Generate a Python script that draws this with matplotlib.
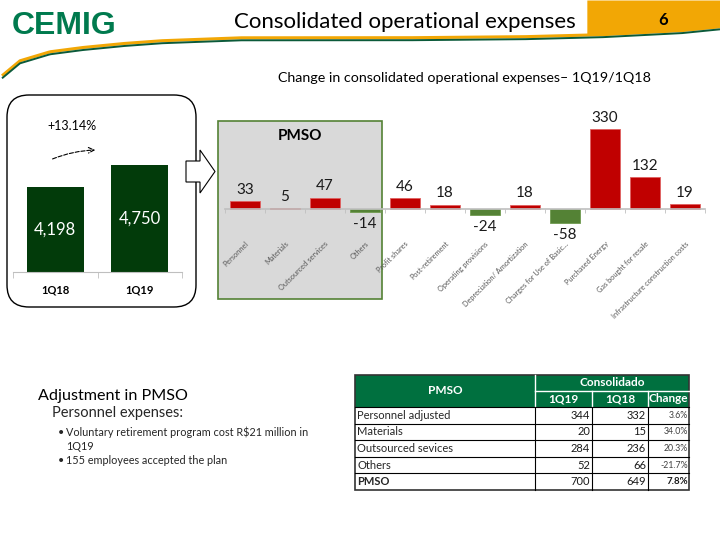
import matplotlib.pyplot as plt
import matplotlib.patches as mpatches
import numpy as np

# data
quarters = ['1Q18', '1Q19']
totals = [4198, 4750]
total_change = '+13.14%'

categories = ['Personnel', 'Materials', 'Outsourced services', 'Others', 'Profit shares',
              'Post-retirement', 'Operating provisions', 'Depreciation/ Amortization',
              'Charges for Use of Basic...', 'Purchased Energy', 'Gas bought for resale',
              'Infrastructure construction costs']
changes = [33, 5, 47, -14, 46, 18, -24, 18, -58, 330, 132, 19]

table_rows = ['Personnel adjusted', 'Materials', 'Outsourced sevices', 'Others', 'PMSO']
table_1q19 = [344, 20, 284, 52, 700]
table_1q18 = [332, 15, 236, 66, 649]
table_change = ['3.6%', '34.0%', '20.3%', '-21.7%', '7.8%']

plt.rcParams['font.family'] = ['Lato', 'DejaVu Sans']

ORANGE = '#f2a705'
DKGREEN = '#0b5a3a'
RED = '#c00000'
NEG = '#548235'
HDR = '#00703f'
W, H = 720, 540

fig = plt.figure(figsize=(7.2, 5.4), dpi=100)
bg = fig.add_axes([0, 0, 1, 1])
bg.set_xlim(0, W)
bg.set_ylim(H, 0)
bg.axis('off')


def px_axes(x0, y0, x1, y1):
    a = fig.add_axes([x0 / W, 1 - y1 / H, (x1 - x0) / W, (y1 - y0) / H])
    a.patch.set_alpha(0)
    return a


# header: swoosh, orange box, logo, title
sx = [2, 20, 50, 80, 120, 160, 240, 400, 520, 600, 680, 720]
sy = [77, 62, 53, 49, 45, 42, 39, 39, 38, 36, 32, 28]
xs = np.linspace(2, 720, 400)
ys = np.interp(xs, sx, sy)
m = xs >= 586
bg.fill_between(xs[m], 0, ys[m] - 2, color=ORANGE, lw=0)
bg.plot(xs, ys - 1.2, color=ORANGE, lw=2.2, solid_capstyle='butt')
bg.plot(xs, ys + 1.3, color=DKGREEN, lw=1.4, solid_capstyle='butt')
bg.text(12, 26, 'CEMIG', family='Liberation Sans', fontweight='bold', fontsize=23,
        color='#007a4e', va='center')
bg.text(405, 22, 'Consolidated operational expenses', ha='center', va='center', fontsize=16)
bg.text(663, 20, '6', ha='center', va='center', fontsize=12, fontweight='bold')
bg.text(465, 78, 'Change in consolidated operational expenses\u2013 1Q19/1Q18',
        ha='center', va='center', fontsize=10.3)

# left box
bg.add_patch(mpatches.FancyBboxPatch((7, 95), 189, 212, boxstyle='round,pad=0,rounding_size=22',
                                     fc='white', ec='black', lw=1))
bg.text(72, 126, total_change, ha='center', va='center', fontsize=9)
bg.annotate('', xy=(98, 150), xytext=(50, 160),
            arrowprops=dict(arrowstyle='->', ls='--', lw=0.8, color='black',
                            connectionstyle='arc3,rad=-0.1'))
# block arrow
bg.add_patch(mpatches.Polygon([(186, 161), (200, 161), (200, 150), (215, 171.5),
                               (200, 193), (200, 182), (186, 182)],
                              closed=True, fc='white', ec='black', lw=0.8))
# PMSO gray box
bg.add_patch(mpatches.Rectangle((218, 121), 164, 178, fc='#d9d9d9', ec=NEG, lw=1.2))
bg.text(300, 136, 'PMSO', ha='center', va='center', fontsize=11, fontweight='bold')

# totals bar chart
ax1 = px_axes(13, 140, 182, 272)
ymin = 2065
ax1.bar(range(len(totals)), totals, width=0.67, color='#023b0a')
ax1.set_xlim(-0.5, 1.5)
ax1.set_ylim(ymin, 5377)
for i, v in enumerate(totals):
    ax1.text(i, (ymin + v) / 2, f'{v:,}', ha='center', va='center', color='white', fontsize=12)
for s in ['top', 'left', 'right']:
    ax1.spines[s].set_visible(False)
ax1.spines['bottom'].set_color('#bfbfbf')
ax1.set_yticks([])
ax1.set_xticks(range(len(quarters)))
ax1.set_xticklabels(quarters, fontsize=8, fontweight='bold')
ax1.tick_params(axis='x', which='major', length=0, pad=9)
ax1.set_xticks([-0.5, 0.5, 1.5], minor=True)
ax1.tick_params(axis='x', which='minor', length=4, color='#bfbfbf')

# waterfall of changes
ax2 = px_axes(225, 110, 705, 240)
cols = [RED if v > 0 else NEG for v in changes]
edges = ['#e06060' if v > 0 else '#6f9a4f' for v in changes]
ax2.bar(range(len(changes)), changes, width=0.77, color=cols, edgecolor=edges, lw=0.6)
ax2.set_xlim(-0.5, len(changes) - 0.5)
ax2.set_ylim(-127.9, 408.4)
for s in ['top', 'left', 'right']:
    ax2.spines[s].set_visible(False)
ax2.spines['bottom'].set_position(('data', 0))
ax2.spines['bottom'].set_color('#bfbfbf')
ax2.spines['bottom'].set_linewidth(1.2)
ax2.set_yticks([])
ax2.set_xticks([])
ax2.set_xticks(np.arange(-0.5, len(changes), 1), minor=True)
ax2.tick_params(axis='x', which='minor', length=3, color='#bfbfbf', labelbottom=False)
for i, v in enumerate(changes):
    ax2.annotate(str(v), (i, v), xytext=(0, 3 if v > 0 else -3.5), textcoords='offset points',
                 ha='center', va='bottom' if v > 0 else 'top', fontsize=11, color='#1a1a1a')
    ax2.text(i, 0, categories[i], transform=ax2.get_xaxis_transform(), rotation=45,
             rotation_mode='anchor', ha='right', va='top', fontsize=5.3, color='#595959',
             clip_on=False)

# bottom-left notes
bg.text(38, 396, 'Adjustment in PMSO', fontsize=11.6, va='center')
bg.text(52, 413, 'Personnel expenses:', fontsize=10.5, va='center', color='#262626')
bg.text(58, 432, '\u2022', fontsize=7.8, va='center', color='#262626')
bg.text(66, 432, 'Voluntary retirement program cost R$21 million in', fontsize=7.8,
        va='center', color='#262626')
bg.text(66, 446, '1Q19', fontsize=7.8, va='center', color='#262626')
bg.text(58, 461, '\u2022', fontsize=7.8, va='center', color='#262626')
bg.text(66, 461, '155 employees accepted the plan', fontsize=7.8, va='center', color='#262626')

# table
tx = [355, 535, 592, 648, 689]
t_top, t_mid, t_hdr = 375, 391, 407
rh = 16.6
t_bot = t_hdr + rh * len(table_rows)
bg.add_patch(mpatches.Rectangle((tx[0], t_top), tx[-1] - tx[0], t_hdr - t_top, fc=HDR, lw=0))
bg.plot([tx[1], tx[1]], [t_top, t_hdr], color='white', lw=1)
bg.plot([tx[1], tx[-1]], [t_mid, t_mid], color='white', lw=1)
for x in tx[2:4]:
    bg.plot([x, x], [t_mid, t_hdr], color='white', lw=1)
for k in range(len(table_rows)):
    y = t_hdr + rh * k
    bg.plot([tx[0], tx[-1]], [y, y], color='black', lw=0.8)
for x in tx[1:4]:
    bg.plot([x, x], [t_hdr, t_bot], color='black', lw=0.8)
bg.add_patch(mpatches.Rectangle((tx[0], t_top), tx[-1] - tx[0], t_bot - t_top, fc='none',
                                ec='#333333', lw=1.2))
hd = dict(color='white', fontweight='bold', fontsize=8.5, ha='center', va='center')
bg.text((tx[0] + tx[1]) / 2, (t_top + t_hdr) / 2, 'PMSO', **hd)
bg.text((tx[1] + tx[-1]) / 2, (t_top + t_mid) / 2, 'Consolidado', **hd)
for j, lab in enumerate(['1Q19', '1Q18', 'Change']):
    bg.text((tx[j + 1] + tx[j + 2]) / 2, (t_mid + t_hdr) / 2, lab, **hd)
for k, name in enumerate(table_rows):
    yc = t_hdr + rh * (k + 0.5)
    last = k == len(table_rows) - 1
    fw = 'bold' if last else 'normal'
    bg.text(tx[0] + 2, yc, name, fontsize=8, va='center', color='#262626', fontweight=fw)
    bg.text(tx[2] - 2, yc, str(table_1q19[k]), fontsize=8, va='center', ha='right', color='#1a1a1a')
    bg.text(tx[3] - 2, yc, str(table_1q18[k]), fontsize=8, va='center', ha='right', color='#1a1a1a')
    bg.text(tx[4] - 1, yc, table_change[k], fontsize=7 if last else 6.3, va='center', ha='right',
            color='#1a1a1a' if last else '#404040', fontweight=fw)

fig.savefig('out.png', dpi=100)
